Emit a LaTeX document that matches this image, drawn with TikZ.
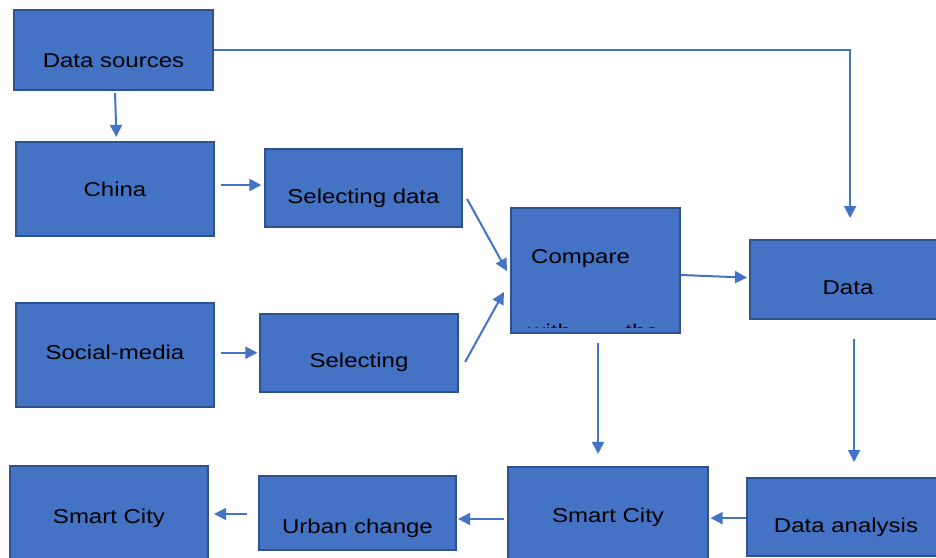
\documentclass[tikz,border=0pt]{standalone}
\usepackage{fontspec}
\setmainfont{Liberation Sans}
\usepackage{graphicx}
\usetikzlibrary{arrows.meta}
\definecolor{boxfill}{HTML}{4472C4}
\definecolor{boxline}{HTML}{2F528F}
\definecolor{arrcol}{HTML}{4472C4}
\newcommand\wtxt[1]{\scalebox{1.2}[1]{#1}}
\tikzset{
  box/.style={draw=boxline, line width=2.2pt, fill=boxfill, inner xsep=0pt, inner ysep=0pt,
    anchor=base, font=\fontsize{20}{24}\selectfont, text=black},
  conn/.style={draw=arrcol, line width=2pt, -{Triangle[length=12pt,width=12pt]}},
  lbl/.style={inner sep=0pt, font=\fontsize{20}{24}\selectfont, text=black},
}
\begin{document}
\begin{tikzpicture}[x=1pt,y=-1pt]
\clip (0,0) rectangle (936,557);
\fill[white] (0,0) rectangle (936,557);
% boxes
\node[box, minimum width=199pt, text height=57pt, text depth=23pt] (src) at (113.5,67) {\wtxt{Data sources}};
\node[box, minimum width=198pt, text height=54pt, text depth=40pt] (china) at (115,196) {\wtxt{China}};
\node[box, minimum width=197pt, text height=54pt, text depth=24pt] (seldata) at (363.5,203) {\wtxt{Selecting data}};
\node[box, minimum width=198pt, text height=56pt, text depth=48pt] (social) at (115,359) {\wtxt{Social-media}};
\node[box, minimum width=198pt, text height=53pt, text depth=25pt] (sel) at (359,367) {\wtxt{Selecting}};
\node[box, anchor=center, minimum width=169pt, minimum height=125pt] (compare) at (595.5,270.5) {};
\node[lbl, anchor=base west] (comparetxt) at (531,263) {\wtxt{Compare}};
\begin{scope}
  \clip (512,209) rectangle (679,327);
  \node[lbl, anchor=base west] (withtxt) at (528,338) {\wtxt{with}};
  \node[lbl, anchor=base east] (thetxt) at (659,338) {\wtxt{the}};
\end{scope}
\node[box, anchor=north west, minimum width=240pt, minimum height=79pt] (data) at (749,239) {};
\node[lbl, anchor=base] (datatxt) at (848,294) {\wtxt{Data}};
\node[box, anchor=north west, minimum width=240pt, minimum height=78pt] (analysis) at (746,477) {};
\node[lbl, anchor=base] (analysistxt) at (846,532) {\wtxt{Data analysis}};
\node[box, minimum width=200pt, text height=55pt, text depth=43pt] (smartm) at (608,522) {\wtxt{Smart City}};
\node[box, minimum width=197pt, text height=57pt, text depth=17pt] (urban) at (357.5,533) {\wtxt{Urban change}};
\node[box, minimum width=198pt, text height=57pt, text depth=42pt] (smartl) at (109,523) {\wtxt{Smart City}};
% connectors
\draw[conn, shorten <=2pt, shorten >=4pt] ([xshift=1.5pt]src.south) -- ([xshift=1.5pt]china.north);
\draw[conn, shorten >=21pt] (src.east) -| ([xshift=-20pt]data.north);
\draw[conn] ([xshift=6pt,yshift=4pt]china.east) -- ([xshift=-2.5pt,yshift=4pt]china.east -| seldata.west);
\draw[conn] ([xshift=6pt,yshift=2.3pt]social.east) -- ([xshift=-1.5pt,yshift=2.3pt]social.east -| sel.west);
\draw[conn] ([xshift=4pt,yshift=-11pt]seldata.east) -- ([xshift=-3pt,yshift=-0.5pt]compare.west);
\draw[conn] ([xshift=6pt,yshift=-9pt]sel.east) -- ([xshift=-6pt,yshift=-21.5pt]compare.west);
\draw[conn] ([yshift=-4.5pt]compare.east) -- ([xshift=-2pt,yshift=2pt]data.west);
\draw[conn, shorten <=9pt, shorten >=12pt] ([xshift=2.5pt]compare.south) -- ([xshift=2.5pt]compare.south |- smartm.north);
\draw[conn, shorten <=19pt, shorten >=15pt] ([xshift=-16pt]data.south) -- ([xshift=-16pt]data.south |- analysis.north);
\draw[conn, shorten >=1.5pt] ([yshift=-1pt]analysis.west) -- ([yshift=-1pt]analysis.west -| smartm.east);
\draw[conn, shorten <=3pt, shorten >=1pt] ([yshift=-3pt]smartm.west) -- ([yshift=-3pt]smartm.west -| urban.east);
\draw[conn, shorten <=11pt, shorten >=5pt] ([yshift=-1pt]urban.west) -- ([yshift=-1pt]urban.west -| smartl.east);
\end{tikzpicture}
\end{document}
